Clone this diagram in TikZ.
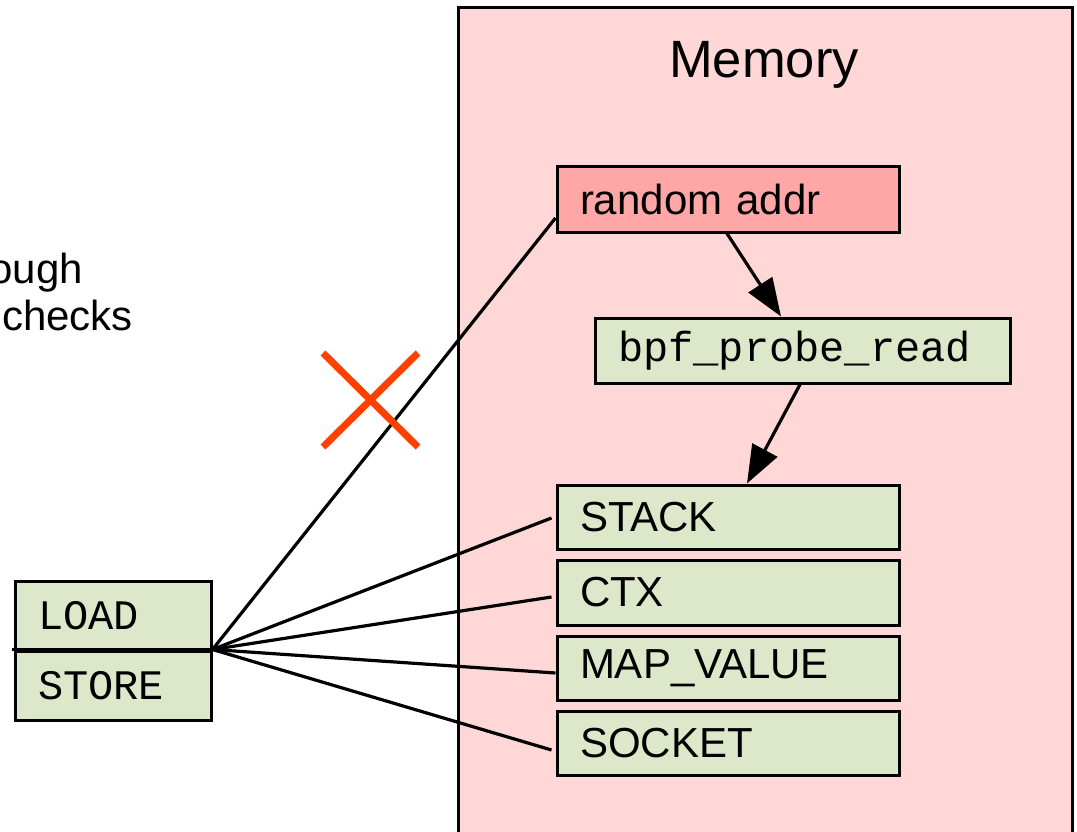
\documentclass[tikz,border=0pt]{standalone}
\usepackage{fontspec}
\setmainfont{Liberation Sans}
\setmonofont{Liberation Mono}
\usetikzlibrary{arrows.meta}
\definecolor{mempink}{HTML}{FFD7D7}
\definecolor{rndpink}{HTML}{FFA6A6}
\definecolor{boxgreen}{HTML}{DDE8CB}
\definecolor{xred}{HTML}{FF4000}
\tikzset{
  box/.style={draw=black, line width=3pt, rectangle, inner xsep=23pt, inner ysep=0pt,
    align=left, font=\fontsize{42}{50}\selectfont},
  greenbox/.style={box, fill=boxgreen},
  monobox/.style={greenbox, font=\ttfamily\fontsize{42}{50}\selectfont},
  conn/.style={draw=black, line width=3.2pt},
  arr/.style={conn, -{Triangle[length=38pt,width=28pt]}},
  crossline/.style={draw=xred, line width=7pt},
  plain/.style={inner sep=0pt, font=\fontsize{42}{50}\selectfont}
}
\begin{document}
\begin{tikzpicture}[x=1pt,y=-1pt]
\clip (0,0) rectangle (1077,832);
\fill[white] (0,0) rectangle (1077,832);
% memory region
\node[draw=black, line width=3pt, fill=mempink, minimum width=614pt, minimum height=860pt,
  anchor=north west, inner sep=0pt] (mem) at (457,6) {};
\node[inner sep=0pt, anchor=base, font=\fontsize{52.5}{60}\selectfont] (memt) at (764,78) {Memory};
% boxes
\node[box, fill=rndpink, text width=296pt, minimum height=65pt] (rnd) at (728,199.5) {random addr};
\node[monobox, text width=369pt, minimum height=65pt] (bpf) at (802.5,350.5) {bpf\_probe\_read};
\node[greenbox, text width=296pt, minimum height=64pt] (stack) at (728,517) {STACK};
\node[greenbox, text width=296pt, minimum height=65pt] (ctx) at (728,592.5) {CTX};
\node[greenbox, text width=296pt, minimum height=64pt] (map) at (728,668) {MAP\_VALUE};
\node[greenbox, text width=296pt, minimum height=64pt] (sock) at (728,743) {SOCKET};
\node[monobox, text width=150pt, minimum height=70pt] (load) at (113,616) {LOAD};
\node[monobox, text width=150pt, minimum height=69pt] (store) at (113,685.5) {STORE};
\coordinate (divl) at ([xshift=-2pt]store.north west);
\draw[line width=3pt] (divl) -- (store.north east);
% left text
\node[plain, anchor=base east] (t1) at (83,283) {ough};
\node[plain, anchor=base east] (t2) at (133,330) {checks};
% connectors
\draw[conn] (store.north east) -- ([yshift=-18.5pt]rnd.west);
\draw[conn] (store.north east) -- ([xshift=-4pt,yshift=-1pt]stack.west);
\draw[conn] (store.north east) -- ([xshift=-4pt,yshift=-4.5pt]ctx.west);
\draw[conn] (store.north east) -- ([yshift=-5pt]map.west);
\draw[conn] (store.north east) -- ([xshift=-4pt,yshift=-7pt]sock.west);
\draw[arr] ([xshift=-1pt]rnd.south) -- ([xshift=-21.5pt]bpf.north);
\draw[arr] ([xshift=-2.5pt]bpf.south) -- ([xshift=19pt]stack.north);
% cross
\coordinate (xa) at (323,353);
\coordinate (xb) at (418,447);
\coordinate (xc) at (418,353);
\coordinate (xd) at (323,447);
\draw[crossline] (xa) -- (xb);
\draw[crossline] (xc) -- (xd);
\end{tikzpicture}
\end{document}
